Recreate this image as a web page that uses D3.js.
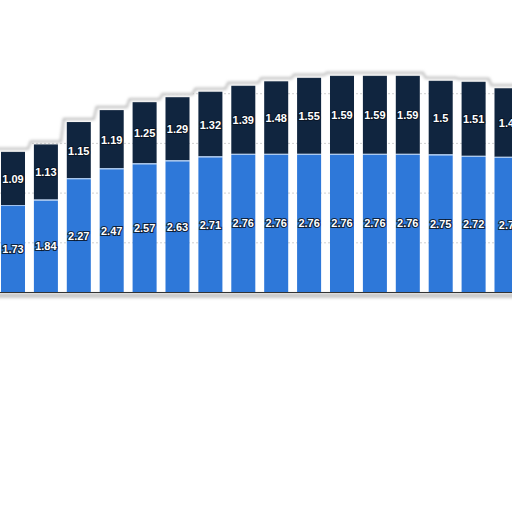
<!DOCTYPE html>
<html>
<head>
<meta charset="utf-8">
<script src="https://cdn.jsdelivr.net/npm/d3@7"></script>
<style>
  html, body { margin: 0; padding: 0; background: #fff; }
  svg { display: block; }
</style>
</head>
<body>
<svg id="chart" width="512" height="512"></svg>
<script>
// valeurs (graphique recadré)
const categories = ["c1","c2","c3","c4","c5","c6","c7","c8","c9","c10","c11","c12","c13","c14","c15","c16"];
const serieBas = [1.73, 1.84, 2.27, 2.47, 2.57, 2.63, 2.71, 2.76, 2.76, 2.76, 2.76, 2.76, 2.76, 2.75, 2.72, 2.7];
const serieHaut = [1.09, 1.13, 1.15, 1.19, 1.25, 1.29, 1.32, 1.39, 1.48, 1.55, 1.59, 1.59, 1.59, 1.5, 1.51, 1.4];
const grilleTicks = [1, 2, 3, 4];

const couleurBas = "#2e78d9";
const couleurHaut = "#10253f";

const svg = d3.select("#chart");

const baseY = 292;
const step = 32.9;
const x0 = -3.45;

const x = d3.scaleBand()
    .domain(categories)
    .range([x0, x0 + step * categories.length])
    .paddingInner(0.27)
    .paddingOuter(0.135);

const y = d3.scaleLinear()
    .domain([0, 5])
    .range([baseY, baseY - 248.5]);

const donnees = categories.map((c, i) => ({ cat: c, bas: serieBas[i], haut: serieHaut[i] }));

const defs = svg.append("defs");
defs.append("filter").attr("id", "flou")
    .attr("x", "-10%").attr("y", "-50%").attr("width", "120%").attr("height", "200%")
  .append("feGaussianBlur").attr("stdDeviation", 1.6);

// ombre sous la ligne de base
svg.append("rect")
    .attr("x", -5).attr("y", baseY + 1)
    .attr("width", 530).attr("height", 5)
    .attr("fill", "#c8c8c8")
    .attr("filter", "url(#flou)");

// grille pointillée
svg.append("g")
  .selectAll("line")
  .data(grilleTicks)
  .join("line")
    .attr("x1", 0).attr("x2", 512)
    .attr("y1", d => y(d) + 0.5).attr("y2", d => y(d) + 0.5)
    .attr("stroke", "#d0d0d0")
    .attr("stroke-dasharray", "2,2");

// bord déchiré qui suit le haut des barres
const bord = [];
donnees.forEach(d => {
    const haut = y(d.bas + d.haut) - 3;
    bord.push([x(d.cat) - 3, haut]);
    bord.push([x(d.cat) + x.bandwidth() + 3, haut]);
});
bord[0][0] = -5;
bord[bord.length - 1][0] = 520;

const ligne = d3.line();
svg.append("path")
    .attr("d", ligne([[-5, -5], ...bord, [520, -5]]) + "Z")
    .attr("fill", "#fff");

// barres empilées
const g = svg.append("g");
g.selectAll(".bas")
  .data(donnees)
  .join("rect")
    .attr("class", "bas")
    .attr("x", d => x(d.cat))
    .attr("width", x.bandwidth())
    .attr("y", d => y(d.bas))
    .attr("height", d => baseY - y(d.bas))
    .attr("fill", couleurBas);

g.selectAll(".haut")
  .data(donnees)
  .join("rect")
    .attr("class", "haut")
    .attr("x", d => x(d.cat))
    .attr("width", x.bandwidth())
    .attr("y", d => y(d.bas + d.haut))
    .attr("height", d => y(d.bas) - y(d.bas + d.haut) - 1)
    .attr("fill", couleurHaut);

g.selectAll(".sep")
  .data(donnees)
  .join("line")
    .attr("class", "sep")
    .attr("x1", d => x(d.cat)).attr("x2", d => x(d.cat) + x.bandwidth())
    .attr("y1", d => y(d.bas) - 0.5).attr("y2", d => y(d.bas) - 0.5)
    .attr("stroke", "#9fc2ee");

svg.append("path")
    .attr("d", ligne(bord))
    .attr("fill", "none")
    .attr("stroke", "#b5b5b5")
    .attr("stroke-width", 2)
    .attr("filter", "url(#flou)");

// ligne de base
svg.append("line")
    .attr("x1", 0).attr("x2", 512)
    .attr("y1", baseY + 0.5).attr("y2", baseY + 0.5)
    .attr("stroke", "#333")
    .attr("stroke-width", 1);

// étiquettes
const etiquette = (sel) => sel
    .attr("text-anchor", "middle")
    .attr("dominant-baseline", "central")
    .attr("font-family", "Liberation Sans, Arial, sans-serif")
    .attr("font-weight", "bold")
    .attr("font-size", 11)
    .attr("fill", "#fff")
    .attr("stroke", "rgba(10,20,35,0.85)")
    .attr("stroke-width", 2.2)
    .attr("paint-order", "stroke");

g.selectAll(".lbas")
  .data(donnees)
  .join("text")
    .attr("class", "lbas")
    .attr("x", d => x(d.cat) + x.bandwidth() / 2)
    .attr("y", d => (y(d.bas) + baseY) / 2)
    .text(d => d.bas)
    .call(etiquette);

g.selectAll(".lhaut")
  .data(donnees)
  .join("text")
    .attr("class", "lhaut")
    .attr("x", d => x(d.cat) + x.bandwidth() / 2)
    .attr("y", d => (y(d.bas) + y(d.bas + d.haut)) / 2)
    .text(d => d.haut)
    .call(etiquette);
</script>
</body>
</html>
